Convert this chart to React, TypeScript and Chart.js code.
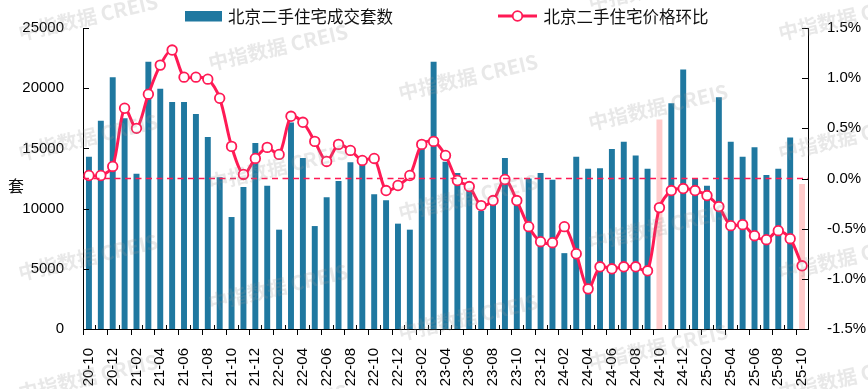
import React, { useEffect, useRef } from 'react';
import { Chart, registerables } from 'chart.js';

Chart.register(...registerables);

const months = [
  '20-10', '20-11', '20-12',
  '21-01', '21-02', '21-03', '21-04', '21-05', '21-06', '21-07', '21-08', '21-09', '21-10', '21-11', '21-12',
  '22-01', '22-02', '22-03', '22-04', '22-05', '22-06', '22-07', '22-08', '22-09', '22-10', '22-11', '22-12',
  '23-01', '23-02', '23-03', '23-04', '23-05', '23-06', '23-07', '23-08', '23-09', '23-10', '23-11', '23-12',
  '24-01', '24-02', '24-03', '24-04', '24-05', '24-06', '24-07', '24-08', '24-09', '24-10', '24-11', '24-12',
  '25-01', '25-02', '25-03', '25-04', '25-05', '25-06', '25-07', '25-08', '25-09', '25-10',
];

// 北京二手住宅成交套数 (套)
const volume = [
  14300, 17300, 20900,
  17500, 12900, 22200, 19950, 18850, 18850, 17850, 15950, 12600, 9300, 11800, 15450,
  11900, 8250, 17150, 14200, 8550, 10950, 12300, 13850, 13800, 11200, 10700, 8750,
  8250, 15000, 22200, 13900, 12950, 11750, 9800, 10400, 14200, 10700, 12500, 12950,
  12400, 6300, 14300, 13300, 13350, 14950, 15550, 14400, 13300, 17400, 18750, 21550,
  12500, 11900, 19250, 15550, 14300, 15100, 12800, 13300, 15900, 12050,
];

// 北京二手住宅价格环比 (%)
const priceMoM = [
  0.03, 0.03, 0.12,
  0.70, 0.50, 0.84, 1.13, 1.28, 1.01, 1.01, 0.99, 0.80, 0.32, 0.04, 0.20,
  0.31, 0.24, 0.62, 0.56, 0.37, 0.17, 0.34, 0.28, 0.18, 0.20, -0.12, -0.07,
  0.03, 0.34, 0.37, 0.23, -0.02, -0.08, -0.27, -0.22, -0.01, -0.22, -0.48, -0.63,
  -0.64, -0.48, -0.75, -1.10, -0.88, -0.90, -0.88, -0.88, -0.92, -0.29, -0.12, -0.10,
  -0.12, -0.17, -0.28, -0.47, -0.46, -0.57, -0.61, -0.52, -0.60, -0.87,
];

const highlightMonths = ['24-10', '25-10'];

const barLabel = '北京二手住宅成交套数';
const lineLabel = '北京二手住宅价格环比';
const yTitle = '套';
const watermark = '中指数据 CREIS';

const BAR = '#1f78a0';
const PINK = '#ffcccc';
const RED = '#ff1a55';
const INK = '#111111';
const LATIN = '"Liberation Sans", Arial, sans-serif';
const CJK = '"Noto Sans CJK SC", "Noto Sans", sans-serif';

const decor = {
  id: 'decor',
  afterDatasetDraw(chart: any, args: any) {
    if (args.index !== 0) return;
    const { ctx, chartArea: ca } = chart;
    const y = chart.scales.y1.getPixelForValue(0);
    ctx.save();
    ctx.strokeStyle = RED;
    ctx.lineWidth = 1.5;
    ctx.setLineDash([6, 4.5]);
    ctx.beginPath();
    ctx.moveTo(ca.left, y);
    ctx.lineTo(ca.right, y);
    ctx.stroke();
    ctx.restore();
  },
  afterDraw(chart: any) {
    const { ctx, chartArea: ca } = chart;
    const ys = chart.scales.y;
    const y1 = chart.scales.y1;
    const xs = chart.scales.x;
    ctx.save();
    ctx.strokeStyle = '#000';
    ctx.lineWidth = 1;
    ctx.beginPath();
    ys.ticks.forEach((t: any) => {
      const py = Math.round(ys.getPixelForValue(t.value)) + 0.5;
      ctx.moveTo(ca.left, py);
      ctx.lineTo(ca.left + 6, py);
    });
    y1.ticks.forEach((t: any) => {
      const py = Math.round(y1.getPixelForValue(t.value)) + 0.5;
      ctx.moveTo(ca.right - 6, py);
      ctx.lineTo(ca.right, py);
    });
    const n = months.length;
    const step = (xs.right - xs.left) / n;
    for (let k = 0; k <= n; k++) {
      const px = Math.round(xs.left + k * step) + 0.5;
      if (k % 2 === 0) {
        ctx.moveTo(px, ca.bottom);
        ctx.lineTo(px, ca.bottom + 6);
      } else {
        ctx.moveTo(px, ca.bottom);
        ctx.lineTo(px, ca.bottom - 4);
      }
    }
    ctx.stroke();

    // legend
    ctx.fillStyle = BAR;
    ctx.fillRect(185, 11, 37, 10.5);
    ctx.fillStyle = INK;
    ctx.font = `16.5px ${CJK}`;
    ctx.textBaseline = 'middle';
    ctx.textAlign = 'left';
    ctx.fillText(barLabel, 228, 16.5);

    ctx.strokeStyle = RED;
    ctx.lineWidth = 3;
    ctx.beginPath();
    ctx.moveTo(498, 16);
    ctx.lineTo(537, 16);
    ctx.stroke();
    ctx.beginPath();
    ctx.arc(517.5, 16, 4.8, 0, Math.PI * 2);
    ctx.fillStyle = '#fff';
    ctx.fill();
    ctx.lineWidth = 1.8;
    ctx.stroke();
    ctx.fillStyle = INK;
    ctx.fillText(lineLabel, 543.5, 16.5);

    // y title
    ctx.font = `16px ${CJK}`;
    ctx.textAlign = 'center';
    ctx.fillText(yTitle, 16, 186);

    // watermark tiles
    ctx.font = `bold 20px ${CJK}`;
    ctx.fillStyle = 'rgba(150,150,150,0.22)';
    ctx.textAlign = 'center';
    ctx.textBaseline = 'middle';
    for (let a = 0; a < 5; a++) {
      for (let b = -1; b < 4; b++) {
        const cx = 88 + 190 * a;
        const cy = 17 + 30 * a + 120 * b;
        if (cy < -30 || cy > 420) continue;
        ctx.save();
        ctx.translate(cx, cy);
        ctx.rotate(-13 * Math.PI / 180);
        ctx.fillText(watermark, 0, 0);
        ctx.restore();
      }
    }
    ctx.restore();
  },
};

export default function App() {
  const ref = useRef<HTMLCanvasElement | null>(null);

  useEffect(() => {
    if (!ref.current) return;
    const chart = new Chart(ref.current, {
      type: 'bar',
      data: {
        labels: months,
        datasets: [
          {
            type: 'line',
            label: lineLabel,
            data: priceMoM,
            yAxisID: 'y1',
            borderColor: RED,
            borderWidth: 3,
            backgroundColor: '#fff',
            pointBackgroundColor: '#fff',
            pointBorderColor: RED,
            pointBorderWidth: 1.8,
            pointRadius: 4.8,
            tension: 0.3,
            order: 0,
          } as any,
          {
            type: 'bar',
            label: barLabel,
            data: volume,
            yAxisID: 'y',
            backgroundColor: months.map((m) => (highlightMonths.includes(m) ? PINK : BAR)),
            barPercentage: 0.5,
            categoryPercentage: 1,
            order: 1,
          } as any,
        ],
      },
      options: {
        responsive: false,
        animation: false,
        events: [],
        layout: { padding: { top: 28, left: 0, right: 0, bottom: 0 } },
        plugins: {
          legend: { display: false },
          tooltip: { enabled: false },
          title: { display: false },
        },
        scales: {
          x: {
            type: 'category',
            offset: true,
            grid: { display: false, offset: true },
            border: { display: true, color: '#000', width: 1 },
            ticks: {
              autoSkip: false,
              minRotation: 90,
              maxRotation: 90,
              padding: 11,
              color: '#000',
              font: { family: LATIN, size: 15 },
              callback: (_v: any, i: number) => (i % 2 === 0 ? months[i] : ''),
            },
            afterFit: (s: any) => {
              s.height = 60;
            },
          },
          y: {
            position: 'left',
            min: 0,
            max: 25000,
            grid: { display: false },
            border: { display: true, color: '#000', width: 1 },
            ticks: {
              stepSize: 5000,
              padding: 11,
              color: '#000',
              font: { family: LATIN, size: 15 },
              callback: (v: any) => String(v),
            },
            afterFit: (s: any) => {
              s.width = 83;
            },
          },
          y1: {
            position: 'right',
            min: -1.5,
            max: 1.5,
            grid: { display: false },
            border: { display: true, color: '#000', width: 1 },
            ticks: {
              stepSize: 0.5,
              padding: 11,
              color: '#000',
              font: { family: LATIN, size: 15 },
              callback: (v: any) => `${Number(v).toFixed(1)}%`,
            },
            afterFit: (s: any) => {
              s.width = 60;
            },
          },
        },
      },
      plugins: [decor],
    });
    return () => chart.destroy();
  }, []);

  return (
    <div style={{ position: 'fixed', left: 0, top: 0, width: 868, height: 389, background: '#fff' }}>
      <canvas ref={ref} width={868} height={389} style={{ width: 868, height: 389, display: 'block' }} />
    </div>
  );
}
